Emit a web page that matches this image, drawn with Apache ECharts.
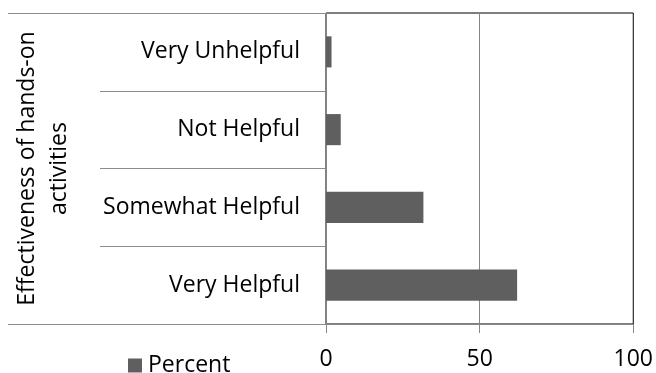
<!DOCTYPE html>
<html>
<head>
<meta charset="utf-8">
<script src="https://cdn.jsdelivr.net/npm/echarts@6/dist/echarts.min.js"></script>
<style>
  html, body { margin: 0; padding: 0; background: #fff; }
  #chart { width: 656px; height: 373px; }
</style>
</head>
<body>
<div id="chart"></div>
<script>
// categories listed bottom to top (category axis starts at the bottom)
var categories = ['Very Helpful', 'Somewhat Helpful', 'Not Helpful', 'Very Unhelpful'];
var percent = [62.2, 31.7, 4.8, 1.8];
var xTicks = [0, 50, 100];

var font = 'Open Sans';
var fs = 23;
var chart = echarts.init(document.getElementById('chart'));

var option = {
  animation: false,
  textStyle: { fontFamily: font },
  grid: {
    left: 326, right: 22, top: 13, bottom: 49,
    show: true, borderColor: '#000', borderWidth: 1, backgroundColor: 'transparent'
  },
  legend: {
    data: ['Percent'],
    left: 123, top: 349,
    icon: 'rect', itemWidth: 14, itemHeight: 14, itemGap: 8,
    textStyle: { fontFamily: font, fontSize: fs, color: '#000', padding: [0, 0, 0, 1] }
  },
  xAxis: {
    type: 'value',
    min: xTicks[0], max: xTicks[xTicks.length - 1], interval: 50,
    axisLine: { show: true, lineStyle: { color: '#868686', width: 1 } },
    axisTick: { show: true, length: 9, lineStyle: { color: '#868686' } },
    axisLabel: { fontFamily: font, fontSize: fs, color: '#000', margin: 24 },
    splitLine: { show: true, showMinLine: false, showMaxLine: false, lineStyle: { color: '#868686', width: 1 } }
  },
  yAxis: [
    {
      type: 'category',
      data: categories,
      axisLine: { show: true, lineStyle: { color: '#868686', width: 1 } },
      axisTick: { show: true, length: 226, lineStyle: { color: '#8c8c8c' } },
      axisLabel: { fontFamily: font, fontSize: fs, color: '#000', margin: 26 },
      name: 'Effectiveness of hands-on\nactivities',
      nameLocation: 'middle',
      nameRotate: 90,
      nameGap: 251,
      nameTextStyle: { fontFamily: font, fontSize: 23, color: '#000', lineHeight: 32, align: 'center' }
    },
    {
      // outer frame lines on the left side (top and bottom edges)
      type: 'value', min: 0, max: 1, interval: 1,
      position: 'left',
      axisLine: { show: false },
      axisTick: { show: true, length: 318, lineStyle: { color: '#8c8c8c' } },
      axisLabel: { show: false },
      splitLine: { show: false }
    }
  ],
  series: [{
    name: 'Percent',
    type: 'bar',
    data: percent,
    barCategoryGap: '60%',
    itemStyle: { color: '#5f5f5f' }
  }]
};

chart.setOption(option);
</script>
</body>
</html>
